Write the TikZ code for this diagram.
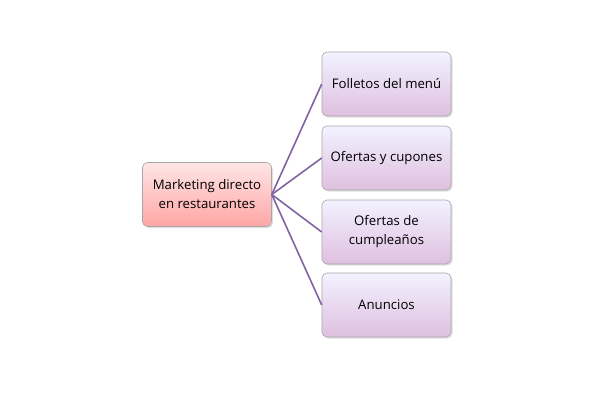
\documentclass[tikz,border=0pt]{standalone}
\usepackage{fontspec}
\setmainfont{Open Sans}
\usetikzlibrary{shadows}
\begin{document}
\begin{tikzpicture}[x=1pt,y=-1pt,
  box/.style={draw=black!35,line width=0.6pt,rounded corners=5pt,minimum width=129pt,minimum height=64pt,align=center,font=\fontsize{13.2}{19}\selectfont,drop shadow={opacity=0.25,shadow xshift=1.5pt,shadow yshift=-1.5pt}},
  rootbox/.style={box,top color=red!10,bottom color=red!35},
  leaf/.style={box,top color=white!95!blue,bottom color=blue!50!red!25},
  link/.style={line width=1.6pt,color={rgb,255:red,128;green,100;blue,162}}]
\useasboundingbox (0,0) rectangle (600,400);
\node[rootbox] (r) at (207,194.5) {Marketing directo\\en restaurantes};
\node[leaf] (a) at (386.5,84) {Folletos del menú};
\node[leaf] (b) at (386.5,158) {Ofertas y cupones};
\node[leaf] (c) at (386.5,232) {Ofertas de\\cumpleaños};
\node[leaf] (d) at (386.5,305) {Anuncios};
\foreach \n in {a,b,c,d} \draw[link] (r.east) -- (\n.west);
\end{tikzpicture}
\end{document}
